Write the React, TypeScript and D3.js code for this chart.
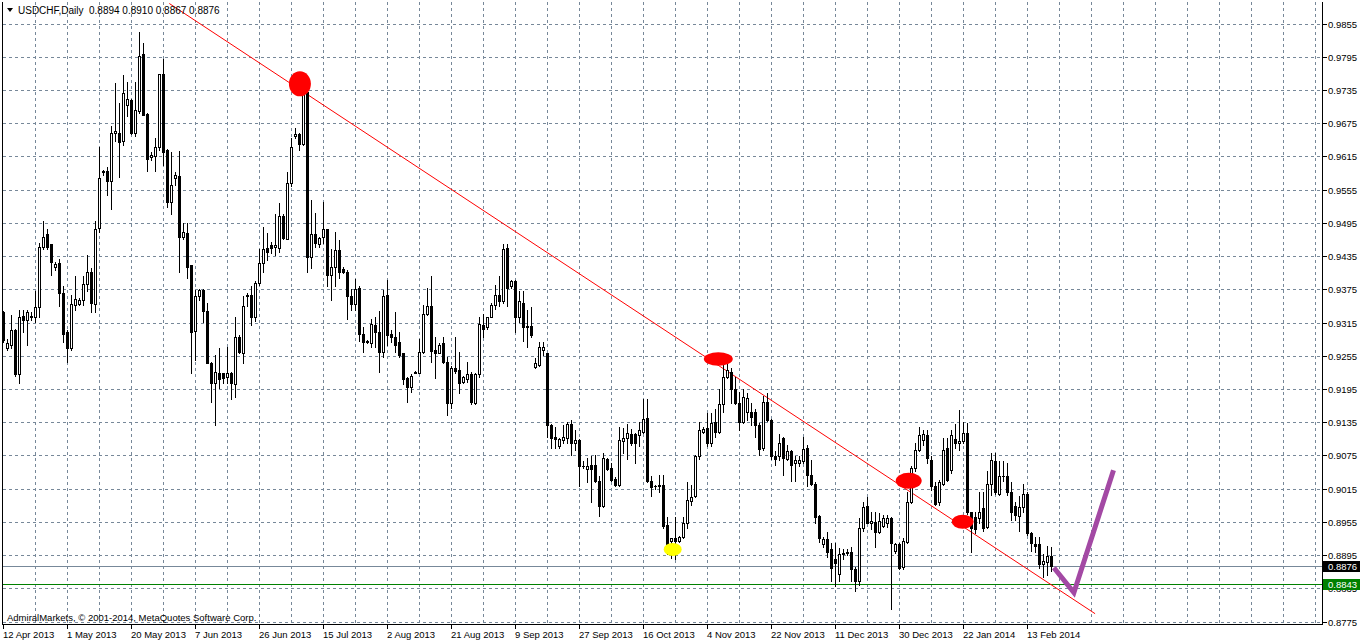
import React from 'react';
import * as d3 from 'd3';

// ---- data (USDCHF, Daily) ----
const opens = [
  .9334,.9270,.9276,.9303,.9222,.9328,.9321,.9325,.9326,.9343,
  .9453,.9475,.9457,.9417,.9424,.9370,.9298,.9270,.9348,.9350,
  .9357,.9386,.9408,.9350,.9487,.9587,.9590,.9572,.9659,.9659,
  .9643,.9708,.9718,.9659,.9697,.9800,.9693,.9614,.9617,.9632,
  .9765,.9628,.9534,.9576,.9581,.9471,.9478,.9419,.9301,.9363,
  .9374,.9337,.9243,.9207,.9225,.9224,.9218,.9225,.9205,.9290,
  .9261,.9363,.9366,.9325,.9388,.9424,.9451,.9455,.9453,.9451,
  .9509,.9467,.9567,.9652,.9657,.9639,.9733,.9435,.9475,.9458,
  .9471,.9484,.9402,.9417,.9446,.9413,.9408,.9364,.9350,.9379,
  .9296,.9283,.9278,.9312,.9299,.9263,.9366,.9296,.9289,.9280,
  .9260,.9216,.9200,.9227,.9225,.9263,.9332,.9346,.9267,.9261,
  .9278,.9245,.9171,.9234,.9231,.9209,.9214,.9222,.9171,.9222,
  .9312,.9307,.9326,.9348,.9366,.9354,.9451,.9381,.9390,.9326,
  .9352,.9310,.9310,.9236,.9240,.9267,.9260,.9131,.9110,.9092,
  .9103,.9108,.9133,.9099,.9104,.9057,.9052,.9059,.9059,.9029,
  .8985,.9070,.9054,.9034,.9023,.9101,.9108,.9115,.9115,.9113,
  .9119,.9144,.9030,.9021,.9023,.9023,.8951,.8922,.8926,.8922,
  .8929,.8954,.8994,.9003,.9074,.9119,.9126,.9099,.9137,.9119,
  .9168,.9218,.9227,.9196,.9171,.9137,.9155,.9155,.9155,.9130,
  .9090,.9173,.9140,.9074,.9074,.9108,.9070,.9083,.9063,.9063,
  .9065,.9090,.9041,.9025,.8967,.8915,.8924,.8906,.8888,.8862,
  .8898,.8900,.8902,.8871,.8849,.8945,.8985,.8954,.8956,.8937,
  .8949,.8954,.8963,.8904,.8915,.8875,.8920,.8992,.9054,.9086,
  .9104,.9113,.9068,.9021,.8992,.9025,.9090,.9050,.9106,.9099,
  .9101,.9117,.8973,.8965,.8963,.8980,.8947,.9025,.9065,.9007,
  .9039,.9039,.9010,.8985,.8967,.8983,.9007,.8935,.8915,.8915,
  .8879,.8884,.8894,
];
const highs = [
  .9336,.9287,.9330,.9304,.9339,.9339,.9339,.9334,.9372,.9460,
  .9500,.9485,.9458,.9426,.9431,.9381,.9303,.9366,.9399,.9361,
  .9400,.9438,.9415,.9500,.9632,.9592,.9597,.9671,.9749,.9713,
  .9762,.9751,.9720,.9751,.9841,.9820,.9695,.9624,.9650,.9765,
  .9792,.9630,.9624,.9587,.9626,.9496,.9496,.9420,.9375,.9377,
  .9377,.9352,.9245,.9258,.9270,.9225,.9272,.9227,.9325,.9294,
  .9363,.9370,.9381,.9390,.9448,.9489,.9478,.9462,.9511,.9532,
  .9511,.9587,.9650,.9668,.9659,.9751,.9735,.9538,.9514,.9471,
  .9534,.9485,.9448,.9480,.9464,.9417,.9410,.9377,.9395,.9381,
  .9307,.9285,.9323,.9325,.9337,.9374,.9392,.9303,.9334,.9298,
  .9261,.9218,.9222,.9229,.9287,.9348,.9379,.9399,.9289,.9278,
  .9289,.9254,.9238,.9290,.9263,.9220,.9245,.9227,.9224,.9325,
  .9332,.9326,.9352,.9384,.9399,.9457,.9457,.9393,.9392,.9372,
  .9372,.9339,.9343,.9252,.9280,.9280,.9261,.9133,.9128,.9108,
  .9130,.9137,.9139,.9122,.9106,.9065,.9072,.9074,.9077,.9038,
  .9081,.9072,.9063,.9036,.9128,.9126,.9133,.9124,.9117,.9137,
  .9178,.9177,.9038,.9023,.9041,.9041,.8965,.8927,.8965,.8931,
  .8965,.9027,.9023,.9077,.9137,.9128,.9153,.9153,.9160,.9196,
  .9252,.9254,.9233,.9218,.9191,.9196,.9189,.9171,.9159,.9135,
  .9184,.9189,.9141,.9083,.9115,.9110,.9094,.9086,.9074,.9074,
  .9110,.9095,.9068,.9027,.8968,.8929,.8937,.8918,.8918,.8909,
  .8906,.8907,.8911,.8875,.8963,.8992,.9001,.8974,.8974,.8972,
  .8969,.8969,.8965,.8918,.8918,.8926,.9010,.9056,.9099,.9128,
  .9122,.9122,.9074,.9027,.9032,.9108,.9108,.9122,.9133,.9157,
  .9137,.9135,.8974,.8974,.9009,.9010,.9048,.9081,.9081,.9065,
  .9065,.9063,.9027,.8992,.9003,.9025,.9010,.8938,.8929,.8929,
  .8897,.8913,.8910,
];
const lows = [
  .9281,.9267,.9270,.9220,.9207,.9298,.9276,.9321,.9316,.9326,
  .9448,.9448,.9402,.9411,.9345,.9280,.9245,.9267,.9339,.9348,
  .9348,.9372,.9335,.9334,.9480,.9583,.9547,.9520,.9643,.9579,
  .9637,.9688,.9657,.9652,.9695,.9690,.9590,.9610,.9590,.9628,
  .9601,.9525,.9511,.9565,.9408,.9466,.9397,.9225,.9249,.9357,
  .9316,.9242,.9173,.9131,.9198,.9207,.9207,.9177,.9182,.9261,
  .9243,.9346,.9312,.9318,.9384,.9408,.9429,.9442,.9438,.9444,
  .9466,.9466,.9563,.9650,.9628,.9637,.9408,.9415,.9453,.9453,
  .9460,.9381,.9357,.9381,.9397,.9406,.9323,.9339,.9339,.9283,
  .9263,.9278,.9272,.9272,.9227,.9254,.9276,.9280,.9263,.9254,
  .9204,.9173,.9191,.9224,.9224,.9260,.9330,.9245,.9216,.9260,
  .9243,.9148,.9162,.9225,.9189,.9207,.9209,.9169,.9169,.9218,
  .9289,.9305,.9325,.9341,.9345,.9352,.9345,.9379,.9299,.9316,
  .9283,.9272,.9290,.9234,.9238,.9258,.9110,.9090,.9090,.9090,
  .9099,.9099,.9077,.9086,.9020,.9054,.9027,.8992,.9027,.8967,
  .8983,.9050,.9030,.9020,.9021,.9081,.9070,.9094,.9063,.9092,
  .9117,.9027,.9003,.9016,.9009,.8945,.8897,.8891,.8888,.8920,
  .8926,.8945,.8987,.9001,.9070,.9117,.9092,.9092,.9110,.9117,
  .9155,.9216,.9171,.9169,.9122,.9135,.9140,.9130,.9110,.9077,
  .9086,.9138,.9070,.9059,.9068,.9041,.9068,.9030,.9030,.9056,
  .9063,.9020,.9023,.8954,.8920,.8911,.8893,.8849,.8840,.8849,
  .8888,.8896,.8849,.8831,.8842,.8939,.8953,.8943,.8911,.8935,
  .8947,.8947,.8799,.8900,.8871,.8871,.8918,.8990,.9048,.9083,
  .9094,.9063,.9014,.8987,.8987,.9023,.9029,.9045,.9090,.9086,
  .9099,.8970,.8902,.8935,.8954,.8939,.8945,.9005,.9007,.9005,
  .9029,.9005,.8960,.8960,.8939,.8974,.8933,.8904,.8902,.8873,
  .8857,.8860,.8867,
];
const closes = [
  .9285,.9279,.9303,.9222,.9326,.9321,.9335,.9328,.9343,.9453,
  .9471,.9453,.9426,.9422,.9370,.9296,.9270,.9350,.9359,.9357,
  .9386,.9408,.9352,.9485,.9576,.9590,.9572,.9659,.9661,.9641,
  .9731,.9720,.9659,.9699,.9798,.9691,.9612,.9619,.9632,.9764,
  .9624,.9534,.9565,.9583,.9471,.9480,.9417,.9299,.9363,.9374,
  .9337,.9243,.9207,.9227,.9213,.9216,.9225,.9207,.9290,.9263,
  .9345,.9366,.9325,.9388,.9424,.9449,.9444,.9451,.9455,.9509,
  .9469,.9568,.9632,.9657,.9639,.9733,.9435,.9475,.9460,.9469,
  .9484,.9402,.9417,.9446,.9408,.9408,.9363,.9350,.9377,.9296,
  .9281,.9280,.9314,.9299,.9263,.9364,.9294,.9290,.9276,.9258,
  .9214,.9200,.9220,.9225,.9263,.9332,.9345,.9265,.9261,.9276,
  .9245,.9171,.9234,.9229,.9207,.9218,.9222,.9173,.9222,.9314,
  .9305,.9325,.9348,.9366,.9354,.9449,.9379,.9390,.9326,.9354,
  .9308,.9308,.9294,.9243,.9272,.9272,.9131,.9108,.9106,.9106,
  .9110,.9133,.9099,.9104,.9057,.9056,.9057,.9052,.9029,.8985,
  .9072,.9052,.9032,.9023,.9104,.9108,.9117,.9099,.9099,.9122,
  .9142,.9029,.9018,.9020,.9020,.8949,.8909,.8926,.8922,.8929,
  .8954,.8996,.9001,.9075,.9122,.9124,.9099,.9135,.9119,.9168,
  .9218,.9231,.9196,.9171,.9137,.9182,.9180,.9146,.9130,.9088,
  .9173,.9140,.9074,.9070,.9099,.9072,.9083,.9059,.9068,.9067,
  .9088,.9041,.9025,.8965,.8927,.8924,.8902,.8873,.8882,.8898,
  .8900,.8902,.8871,.8849,.8945,.8983,.8954,.8958,.8937,.8958,
  .8963,.8962,.8918,.8915,.8873,.8922,.8992,.9054,.9086,.9112,
  .9115,.9072,.9020,.8989,.9027,.9086,.9032,.9113,.9099,.9101,
  .9117,.8973,.8945,.8943,.8973,.8945,.9025,.9068,.9009,.9038,
  .9038,.9009,.8973,.8969,.8983,.9007,.8935,.8918,.8913,.8879,
  .8886,.8895,.8876,
];

const dateLabels = [
  '12 Apr 2013', '1 May 2013', '20 May 2013', '7 Jun 2013', '26 Jun 2013',
  '15 Jul 2013', '2 Aug 2013', '21 Aug 2013', '9 Sep 2013', '27 Sep 2013',
  '16 Oct 2013', '4 Nov 2013', '22 Nov 2013', '11 Dec 2013', '30 Dec 2013',
  '22 Jan 2014', '13 Feb 2014',
];
const barsPerDateLabel = 16;
const barsPerGridColumn = 8;

const priceTickLabels = [
  '0.9855', '0.9795', '0.9735', '0.9675', '0.9615', '0.9555', '0.9495',
  '0.9435', '0.9375', '0.9315', '0.9255', '0.9195', '0.9135', '0.9075',
  '0.9015', '0.8955', '0.8895', '0.8835', '0.8775',
];

const bidPrice = 0.8876;
const levelPrice = 0.8843;

// drawn annotations (bar index, price)
const redMarkBars = [74.1, 178.7, 226.3, 239.8];
const redMarkPrices = [0.9747, 0.925, 0.903, 0.8956];
const yellowMarkBar = 167.3;
const yellowMarkPrice = 0.8906;
const trendBars = [41.45, 272.9];
const trendPrices = [0.9892, 0.879];
const arrowBars = [262.6, 267.6, 277.5];
const arrowPrices = [0.8873, 0.8828, 0.9049];

// ---- layout / style ----
const W = 1362;
const H = 643;
const plotLeft = 2.5;
const plotRight = 1322.5;
const plotTop = 2;
const plotBottom = 624.5;
const gridColor = '#778899';
const font = "'Liberation Sans', Arial, sans-serif";
const redMarkSize = [[11, 12.5], [14.5, 6.7], [13, 8], [11, 7]];

export default function App() {
  const n = Math.min(opens.length, highs.length, lows.length, closes.length);
  const x = d3.scaleLinear().domain([0, 262]).range([3.5, 1051.5]);
  const y = d3.scaleLinear().domain([0.8775, 0.9855]).range([622, 24]);
  const crisp = (v: number) => Math.round(v - 0.5) + 0.5;

  const gridXs: number[] = [];
  for (let i = barsPerGridColumn; x(i) < plotRight - 3; i += barsPerGridColumn) gridXs.push(crisp(x(i)));

  const trendLine = d3.line<number>()
    .x((_, i) => x(trendBars[i]))
    .y((_, i) => y(trendPrices[i]));
  const arrowLine = d3.line<number>()
    .x((_, i) => x(arrowBars[i]))
    .y((_, i) => y(arrowPrices[i]));

  const last = n - 1;
  const header = `${opens[last].toFixed(4)} ${highs[last].toFixed(4)} ${lows[last].toFixed(4)} ${closes[last].toFixed(4)}`;

  return (
    <svg
      width={W}
      height={H}
      style={{ position: 'absolute', left: 0, top: 0, background: '#fff', fontFamily: font }}
    >
      <defs>
        <clipPath id="plotClip">
          <rect x={plotLeft} y={plotTop} width={plotRight - plotLeft} height={plotBottom - plotTop} />
        </clipPath>
      </defs>
      <rect x={0} y={0} width={W} height={H} fill="#fff" />

      {/* grid */}
      <g shapeRendering="crispEdges" stroke={gridColor} strokeWidth={1} strokeDasharray="3,3">
        {priceTickLabels.map((t) => {
          const yy = crisp(y(parseFloat(t)));
          return <line key={'h' + t} x1={plotLeft} x2={plotRight} y1={yy} y2={yy} />;
        })}
        {gridXs.map((gx) => (
          <line key={'v' + gx} x1={gx} x2={gx} y1={plotTop} y2={crisp(y(0.8775))} />
        ))}
      </g>

      {/* copyright */}
      <text x={7} y={621} fontSize={9.5} fill="#000">
        AdmiralMarkets, © 2001-2014, MetaQuotes Software Corp.
      </text>

      {/* level lines */}
      <g shapeRendering="crispEdges">
        <line x1={plotLeft} x2={plotRight} y1={crisp(y(bidPrice))} y2={crisp(y(bidPrice))} stroke={gridColor} />
        <line x1={plotLeft} x2={plotRight} y1={crisp(y(levelPrice))} y2={crisp(y(levelPrice))} stroke="#008000" />
      </g>

      <g clipPath="url(#plotClip)">
        {/* trend line */}
        <path d={trendLine([0, 1]) || ''} stroke="#ff0000" strokeWidth={1} fill="none" />

        {/* candles */}
        <g shapeRendering="crispEdges">
          {d3.range(n).map((i) => {
            const cx = x(i);
            const o = opens[i];
            const c = closes[i];
            const yHi = Math.round(y(highs[i]));
            const yLo = Math.round(y(lows[i]));
            const yTop = Math.round(y(Math.max(o, c)));
            const yBot = Math.round(y(Math.min(o, c)));
            const bull = c > o;
            return (
              <g key={i}>
                <line x1={cx} x2={cx} y1={yHi} y2={yLo + 1} stroke="#000" strokeWidth={1} />
                {bull ? (
                  <rect x={cx - 1} y={yTop + 0.5} width={2} height={Math.max(0, yBot - yTop)} fill="#fff" stroke="#000" strokeWidth={1} />
                ) : (
                  <rect x={cx - 1.5} y={yTop} width={3} height={Math.max(1, yBot - yTop + 1)} fill="#000" />
                )}
              </g>
            );
          })}
        </g>

        {/* marks */}
        {redMarkBars.map((b, k) => (
          <ellipse key={'m' + k} cx={x(b)} cy={y(redMarkPrices[k])} rx={redMarkSize[k][0]} ry={redMarkSize[k][1]} fill="#ff0000" />
        ))}
        <ellipse cx={x(yellowMarkBar)} cy={y(yellowMarkPrice)} rx={9} ry={6.5} fill="#ffff00" />

        {/* arrow drawing */}
        <path d={arrowLine([0, 1, 2]) || ''} stroke="#a349a4" strokeWidth={5} fill="none" strokeLinejoin="miter" />
      </g>

      {/* frame */}
      <g shapeRendering="crispEdges" stroke="#000" strokeWidth={1}>
        <line x1={plotLeft} x2={plotLeft} y1={plotTop} y2={plotBottom} />
        <line x1={plotLeft} x2={plotRight + 0.5} y1={plotBottom} y2={plotBottom} />
        <line x1={plotRight} x2={plotRight} y1={plotTop} y2={plotBottom} />
      </g>

      {/* right price axis */}
      <g fontSize={9.5} fill="#000">
        {priceTickLabels.map((t) => {
          const yy = crisp(y(parseFloat(t)));
          return (
            <g key={'p' + t}>
              <line x1={plotRight} x2={plotRight + 4} y1={yy} y2={yy} stroke="#000" shapeRendering="crispEdges" />
              <text x={1328} y={yy + 3.5}>{t}</text>
            </g>
          );
        })}
        <rect x={1323} y={Math.round(y(bidPrice)) - 5} width={37} height={11} fill="#000" />
        <text x={1328} y={Math.round(y(bidPrice)) + 3.5} fill="#fff">{bidPrice.toFixed(4)}</text>
        <rect x={1323} y={Math.round(y(levelPrice)) - 5} width={37} height={11} fill="#008000" />
        <text x={1328} y={Math.round(y(levelPrice)) + 3.5} fill="#fff">{levelPrice.toFixed(4)}</text>
      </g>

      {/* bottom date axis */}
      <g fontSize={9.5} fill="#000">
        {dateLabels.map((d, k) => {
          const bx = crisp(x(k * barsPerDateLabel));
          return (
            <g key={'d' + k}>
              <line x1={bx} x2={bx} y1={plotBottom} y2={plotBottom + 4} stroke="#000" shapeRendering="crispEdges" />
              <text x={bx - 0.5} y={637.5}>{d}</text>
            </g>
          );
        })}
      </g>

      {/* header */}
      <polygon points="7,8 13,8 10,12" fill="#000" />
      <text x={18} y={14} fontSize={10} fill="#000">
        USDCHF,Daily
      </text>
      <text x={89} y={14} fontSize={10} fill="#000">
        {header}
      </text>
    </svg>
  );
}
